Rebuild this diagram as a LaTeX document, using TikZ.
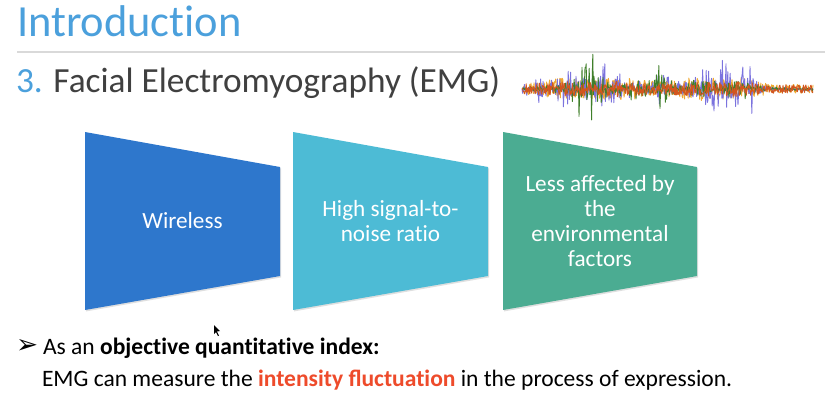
\documentclass[tikz,border=0pt]{standalone}
\usepackage{fontspec}
\setmainfont{Carlito}
\newfontfamily\symfont{DejaVu Sans}
\newcommand{\nolig}{\kern0pt }
\usetikzlibrary{shadows}
\definecolor{titleBlue}{HTML}{4BA0DC}
\definecolor{textGray}{HTML}{404040}
\definecolor{ruleGray}{HTML}{D9D9D9}
\definecolor{boxBlue}{HTML}{2E77CC}
\definecolor{boxCyan}{HTML}{4DBBD5}
\definecolor{boxGreen}{HTML}{4BAC92}
\definecolor{hotRed}{HTML}{EE4B2B}
\definecolor{sigPurple}{HTML}{7B73DE}
\definecolor{sigGreen}{HTML}{3F7F2A}
\definecolor{sigOrange}{HTML}{F0A830}
\definecolor{sigRed}{HTML}{D2561E}

\begin{document}
\begin{tikzpicture}[
    x=0.02cm, y=-0.02cm,
    every node/.style={inner sep=0pt, outer sep=0pt},
    panel/.style={drop shadow={opacity=0.25, shadow xshift=0.6pt, shadow yshift=-0.8pt}},
    paneltext/.style={text=white, align=center, font=\fontsize{13.2}{14.3}\selectfont},
    bodytext/.style={anchor=base west, text=black, font=\fontsize{13.4}{16}\selectfont},
    emg/.style={line width=0.5pt, line join=round},
    declare function={
      pk(\x,\c,\w)=1/(1+((\x-\c)/\w)*((\x-\c)/\w));
      envP(\x)=0.5*pk(\x,535,8)+0.7*pk(\x,568,10)+1.0*pk(\x,600,8)+0.6*pk(\x,618,8)
               +0.5*pk(\x,662,8)+0.8*pk(\x,707,9)+0.9*pk(\x,724,8)+1.0*pk(\x,747,7);
      envG(\x)=0.9*pk(\x,582,8)+0.8*pk(\x,592,8)+1.0*pk(\x,660,6)+0.6*pk(\x,700,9)
               +0.4*pk(\x,740,10)+0.3*pk(\x,630,10);
      envO(\x)=0.35*pk(\x,560,25)+0.4*pk(\x,620,25)+0.4*pk(\x,700,25)+0.3*pk(\x,740,15);
    }
  ]
  \useasboundingbox[fill=white] (0,0) rectangle (825,397);

  % ── Header ──────────────────────────────────────────────────────────────
  \node[anchor=base west, text=titleBlue, font=\fontsize{25.3}{30}\selectfont]
    (title) at (17,36) {Introduct\nolig ion};
  \coordinate (ruleL) at (17,52);
  \coordinate (ruleR) at (825,52);
  \draw[ruleGray, line width=0.6pt] (ruleL) -- (ruleR);
  \node[anchor=base west, text=textGray, font=\fontsize{20.1}{24}\selectfont]
    (subtitle) at (16,92) {\textcolor{titleBlue}{3.} Facial Electromyography (EMG)};

  % EMG trace: four noisy channels
  \pgfmathsetseed{11}
  \draw[emg, sigOrange] (522,89) \foreach \x in {522.6,523.2,...,813} { -- (\x,{89+(3.5+18*envO(\x))*rand}) };
  \draw[emg, sigPurple] (522,89) \foreach \x in {522.6,523.2,...,813} { -- (\x,{89+(1.5+32*envP(\x))*rand*abs(rand)}) };
  \draw[emg, sigGreen] (522,89) \foreach \x in {522.6,523.2,...,813} { -- (\x,{89+(1.5+32*envG(\x))*rand*abs(rand)}) };
  \draw[emg, sigRed] (522,89) \foreach \x in {522.6,523.2,...,813} { -- (\x,{89+(4+8*envO(\x))*rand}) };

  % ── Three panels ────────────────────────────────────────────────────────
  \fill[boxBlue, panel] (85,132) -- (280,167) -- (280,276) -- (85,310) -- cycle;
  \node[paneltext] (wireless) at (182.5,221) {Wireless};

  \fill[boxCyan, panel] (293,132) -- (488,167) -- (488,276) -- (293,310) -- cycle;
  \node[paneltext] (snr) at (390.5,221) {High signal-to-\\noise rat\nolig io};

  \fill[boxGreen, panel] (503,132) -- (697,167) -- (697,276) -- (503,310) -- cycle;
  \node[paneltext] (env) at (600,221) {Less affected by\\the\\environmental\\factors};

  % ── Bullet text ─────────────────────────────────────────────────────────
  \node[anchor=base west, text=black, font=\symfont\bfseries\fontsize{15}{17}\selectfont]
    (bullet) at (16,353) {➢};
  \node[bodytext] (point) at (43,354) {As an \textbf{object\nolig ive quant\nolig itat\nolig ive index:}};
  \node[bodytext] (detail) at (42,386)
    {EMG can measure the \textcolor{hotRed}{\textbf{intensity fluctuat\nolig ion}} in the process of expression.};

  % mouse pointer
  \fill[black] (214,325) -- (214,334) -- (216,332) -- (218,336) -- (219,335.5) -- (217,331.5) -- (220,331) -- cycle;

\end{tikzpicture}
\end{document}
